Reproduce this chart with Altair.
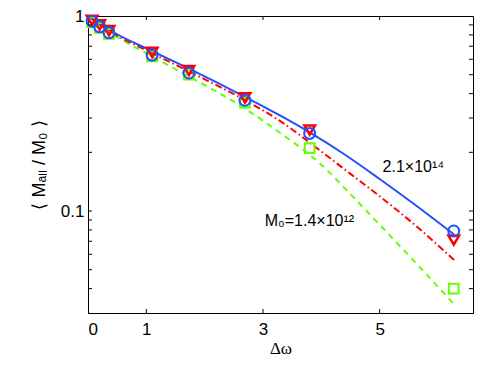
import altair as alt
import pandas as pd

# ---- data ----
blue_x = [0.0, 0.36, 1.1, 1.73, 2.69, 3.29, 3.8, 4.4, 5.0, 5.6, 6.27]
blue_y = [1.0, 0.85, 0.66, 0.537, 0.385, 0.309, 0.253, 0.195, 0.146, 0.108, 0.076]

red_x = [0.0, 0.36, 1.1, 1.73, 2.69, 3.29, 3.97, 4.5, 5.0, 5.6, 6.29]
red_y = [1.0, 0.84, 0.645, 0.52, 0.37, 0.29, 0.205, 0.155, 0.119, 0.085, 0.0556]

green_x = [0.0, 0.36, 1.1, 1.73, 2.69, 3.29, 3.97, 4.5, 5.0, 5.6, 6.31]
green_y = [1.0, 0.83, 0.62, 0.49, 0.335, 0.252, 0.176, 0.122, 0.085, 0.055, 0.0324]

pt_x = [0.07, 0.2, 0.36, 1.1, 1.73, 2.69, 3.8, 6.27]
circ_y = [0.94, 0.88, 0.82, 0.63, 0.51, 0.37, 0.25, 0.079]
tri_y = [0.95, 0.9, 0.84, 0.65, 0.525, 0.38, 0.26, 0.071]
sq_y = [0.93, 0.87, 0.81, 0.62, 0.50, 0.36, 0.21, 0.040]

x_ticks = [1, 3, 5]
x_labels = [0, 1, 3, 5]
y_ticks = [0.04, 0.05, 0.06, 0.07, 0.08, 0.09, 0.1, 0.2, 0.3, 0.4, 0.5, 0.6, 0.7, 0.8, 0.9]
y_labels = [0.1, 1]

ann_x = [5.05, 3.03]
ann_y = [0.158, 0.0838]
ann_text = ["2.1×10¹⁴", "M₀=1.4×10¹²"]

BLUE = "#2050ff"
RED = "#ff0000"
GREEN = "#66ff00"
W, H = 385, 297
FONT = "Liberation Sans"

xs = alt.Scale(domain=[0, 6.6], nice=False, zero=False)
ys = alt.Scale(type="log", domain=[0.03, 1], nice=False)

df_b = pd.DataFrame({"x": blue_x, "y": blue_y})
df_r = pd.DataFrame({"x": red_x, "y": red_y})
df_g = pd.DataFrame({"x": green_x, "y": green_y})
df_p = pd.DataFrame({"x": pt_x, "c": circ_y, "t": tri_y, "s": sq_y})

xaxis = alt.Axis(values=x_labels, ticks=False, grid=False, labelFontSize=17, labelFont=FONT,
                 labelPadding=8, labelColor="black", title="Δω", titleFont="Liberation Serif",
                 titleFontSize=17, titleFontWeight="normal", titlePadding=3, titleColor="black",
                 domainColor="black")
yaxis = alt.Axis(values=y_labels, format="~g", ticks=False, grid=False, labelFontSize=17,
                 labelFont=FONT, labelPadding=4, labelColor="black",
                 title="⟨ Mₐₗₗ / M₀ ⟩", titleFont=FONT, titleFontSize=18,
                 titleFontWeight="normal", titlePadding=12, titleColor="black",
                 domainColor="black")


def X(field):
    return alt.X(field, scale=xs, axis=xaxis)


def Y(field):
    return alt.Y(field, scale=ys, axis=yaxis)


green_line = alt.Chart(df_g).mark_line(color=GREEN, strokeWidth=2, strokeDash=[6, 5],
                                       interpolate="monotone", clip=True).encode(
    x=X("x:Q"), y=Y("y:Q"))
red_line = alt.Chart(df_r).mark_line(color=RED, strokeWidth=2, strokeDash=[7, 3, 1.5, 3],
                                     interpolate="monotone", clip=True).encode(
    x=X("x:Q"), y=Y("y:Q"))
blue_line = alt.Chart(df_b).mark_line(color=BLUE, strokeWidth=2,
                                      interpolate="monotone", clip=True).encode(
    x=X("x:Q"), y=Y("y:Q"))

sq = alt.Chart(df_p).mark_point(shape="square", filled=False, color=GREEN, strokeWidth=2,
                                size=95, opacity=1).encode(x=X("x:Q"), y=Y("s:Q"))
tri = alt.Chart(df_p).mark_point(shape="triangle-down", filled=False, color=RED, strokeWidth=2.5,
                                 size=115, opacity=1).encode(x=X("x:Q"), y=Y("t:Q"))
circ = alt.Chart(df_p).mark_point(shape="circle", filled=False, color=BLUE, strokeWidth=2,
                                  size=120, opacity=1).encode(x=X("x:Q"), y=Y("c:Q"))

df_xt = pd.DataFrame({"v": x_ticks})
df_yt = pd.DataFrame({"v": y_ticks})
tick_style = dict(color="black", strokeWidth=1)
xt_bot = alt.Chart(df_xt).mark_rule(**tick_style).encode(
    x=X("v:Q"), y=alt.value(H), y2=alt.value(H - 4))
xt_top = alt.Chart(df_xt).mark_rule(**tick_style).encode(
    x=X("v:Q"), y=alt.value(0), y2=alt.value(4))
yt_left = alt.Chart(df_yt).mark_rule(**tick_style).encode(
    y=Y("v:Q"), x=alt.value(0), x2=alt.value(4))
yt_right = alt.Chart(df_yt).mark_rule(**tick_style).encode(
    y=Y("v:Q"), x=alt.value(W - 4), x2=alt.value(W))

df_a = pd.DataFrame({"x": ann_x, "y": ann_y, "t": ann_text})
ann = alt.Chart(df_a).mark_text(align="left", baseline="alphabetic", font=FONT, fontSize=16,
                                color="black").encode(x=X("x:Q"), y=Y("y:Q"), text="t:N")

chart = alt.layer(green_line, red_line, blue_line, sq, tri, circ,
                  xt_bot, xt_top, yt_left, yt_right, ann).properties(
    width=W, height=H,
    autosize=alt.AutoSizeParams(type="none"),
    padding={"left": 80, "top": 8, "right": 10, "bottom": 56},
    background="white",
).configure_view(stroke="black", strokeWidth=1)

chart.save("out.html", embed_options={"renderer": "svg", "actions": False})
